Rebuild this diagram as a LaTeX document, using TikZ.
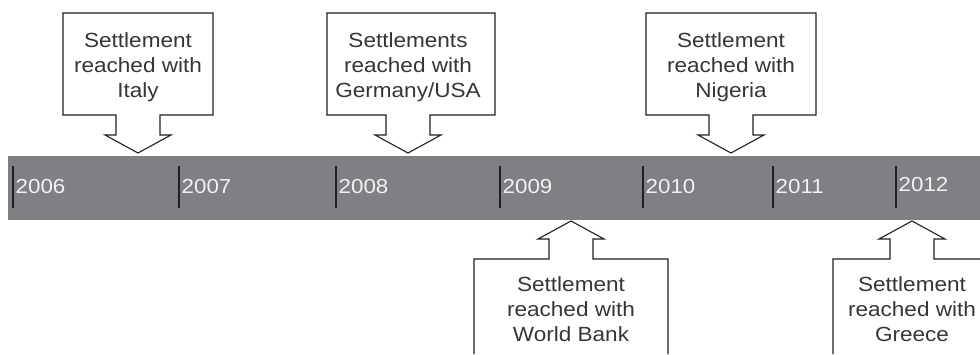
\documentclass[tikz,border=0pt]{standalone}
\usepackage{fontspec}
\setmainfont{Liberation Sans}[FakeStretch=1.1]
\definecolor{bargray}{HTML}{7F8083}
\definecolor{ink}{HTML}{231F20}
\definecolor{yeartext}{HTML}{F2F2F2}
\begin{document}
\begin{tikzpicture}[x=1pt,y=-1pt,
  callout/.style={draw=ink, line width=1.1pt, fill=white, line join=miter},
  ctext/.style={anchor=north, inner sep=0pt, align=center, font=\fontsize{20.5}{25}\selectfont, text=ink!90},
  year/.style={anchor=base west, inner sep=0pt, font=\fontsize{20.3}{20}\selectfont, text=yeartext},
  yeartick/.style={line width=1.5pt, draw=ink}]
\useasboundingbox (0,0) rectangle (980,354);
% timeline bar
\fill[bargray] (8,156) rectangle (980,219.5);
% ticks and years
\foreach \x/\yr/\b in {13/2006/193,179/2007/193,336/2008/193,500/2009/193,643/2010/193,773/2011/193,896/2012/191}{
  \coordinate (t\yr a) at (\x,166);
  \coordinate (t\yr b) at (\x,208);
  \draw[yeartick] (t\yr a) -- (t\yr b);
  \node[year] (y\yr) at (\x+2.5,\b) {\yr};
}
% top callouts
\draw[callout] (63,13) -- (213,13) -- (213,115) -- (160,115) -- (160,135) -- (171,135) -- (138,153) -- (105,135) -- (116,135) -- (116,115) -- (63,115) -- cycle;
\node[ctext] (italy) at (138,32.3) {Settlement\\reached with\\Italy};
\draw[callout] (327,13) -- (495,13) -- (495,115) -- (430,115) -- (430,135) -- (441,135) -- (408,153) -- (375,135) -- (386,135) -- (386,115) -- (327,115) -- cycle;
\node[ctext] (germany) at (408,32.3) {Settlements\\reached with\\Germany/USA};
\draw[callout] (646,13) -- (816,13) -- (816,115) -- (753,115) -- (753,135) -- (764,135) -- (731,153) -- (698,135) -- (709,135) -- (709,115) -- (646,115) -- cycle;
\node[ctext] (nigeria) at (731,32.3) {Settlement\\reached with\\Nigeria};
% bottom callouts
\draw[callout] (474,354) -- (474,259) -- (549,259) -- (549,239) -- (538,239) -- (571,221) -- (604,239) -- (593,239) -- (593,259) -- (668,259) -- (668,354);
\node[ctext] (worldbank) at (571,276.3) {Settlement\\reached with\\World Bank};
\draw[callout] (833,354) -- (833,259) -- (890,259) -- (890,239) -- (879,239) -- (912,221) -- (945,239) -- (934,239) -- (934,259) -- (980,259);
\node[ctext] (greece) at (912,276.3) {Settlement\\reached with\\Greece};
\end{tikzpicture}
\end{document}
